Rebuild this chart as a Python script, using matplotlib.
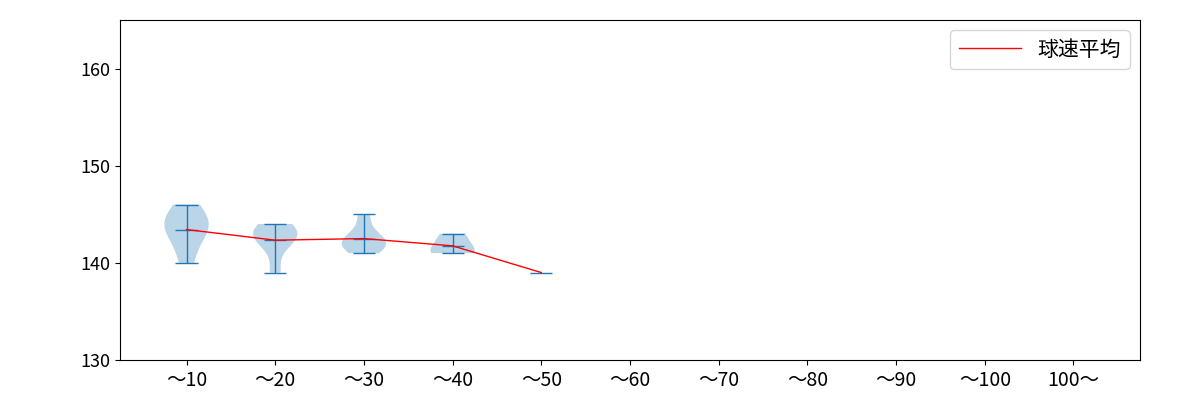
import matplotlib
matplotlib.use("Agg")
import matplotlib.pyplot as plt
import numpy as np

plt.rcParams['font.family'] = ['Noto Sans CJK JP', 'DejaVu Sans']

labels = ["～10", "～20", "～30", "～40", "～50", "～60", "～70", "～80", "～90", "～100", "100～"]
samples = [
    [140, 142, 143, 144, 144, 145, 146],
    [139, 142, 143, 143, 143, 144],
    [141, 142, 142, 142, 143, 145],
    [141, 141, 142, 143],
]
single_pos = 5
single_val = 139

fig, ax = plt.subplots(figsize=(12, 4), dpi=100)
pos = list(range(1, len(samples) + 1))
parts = ax.violinplot(samples, positions=pos, showmeans=True)
for key in ("cbars", "cmins", "cmaxes", "cmeans"):
    parts[key].set_linewidth(1)
ax.hlines(single_val, single_pos - 0.125, single_pos + 0.125, color="C0", lw=1)

means = [np.mean(s) for s in samples] + [single_val]
ax.plot(pos + [single_pos], means, color="red", lw=1, label="球速平均")

ax.set_xticks(range(1, len(labels) + 1))
ax.set_xticklabels(labels, fontsize=14)
ax.set_xlim(0.25, 11.75)
ax.set_ylim(130, 165)
ax.set_yticks([130, 140, 150, 160])
ax.tick_params(axis="y", labelsize=13)
ax.legend(loc="upper right", fontsize=15, handlelength=3)
plt.subplots_adjust(left=0.1, right=0.95, top=0.95, bottom=0.1)
plt.savefig("out.png")
